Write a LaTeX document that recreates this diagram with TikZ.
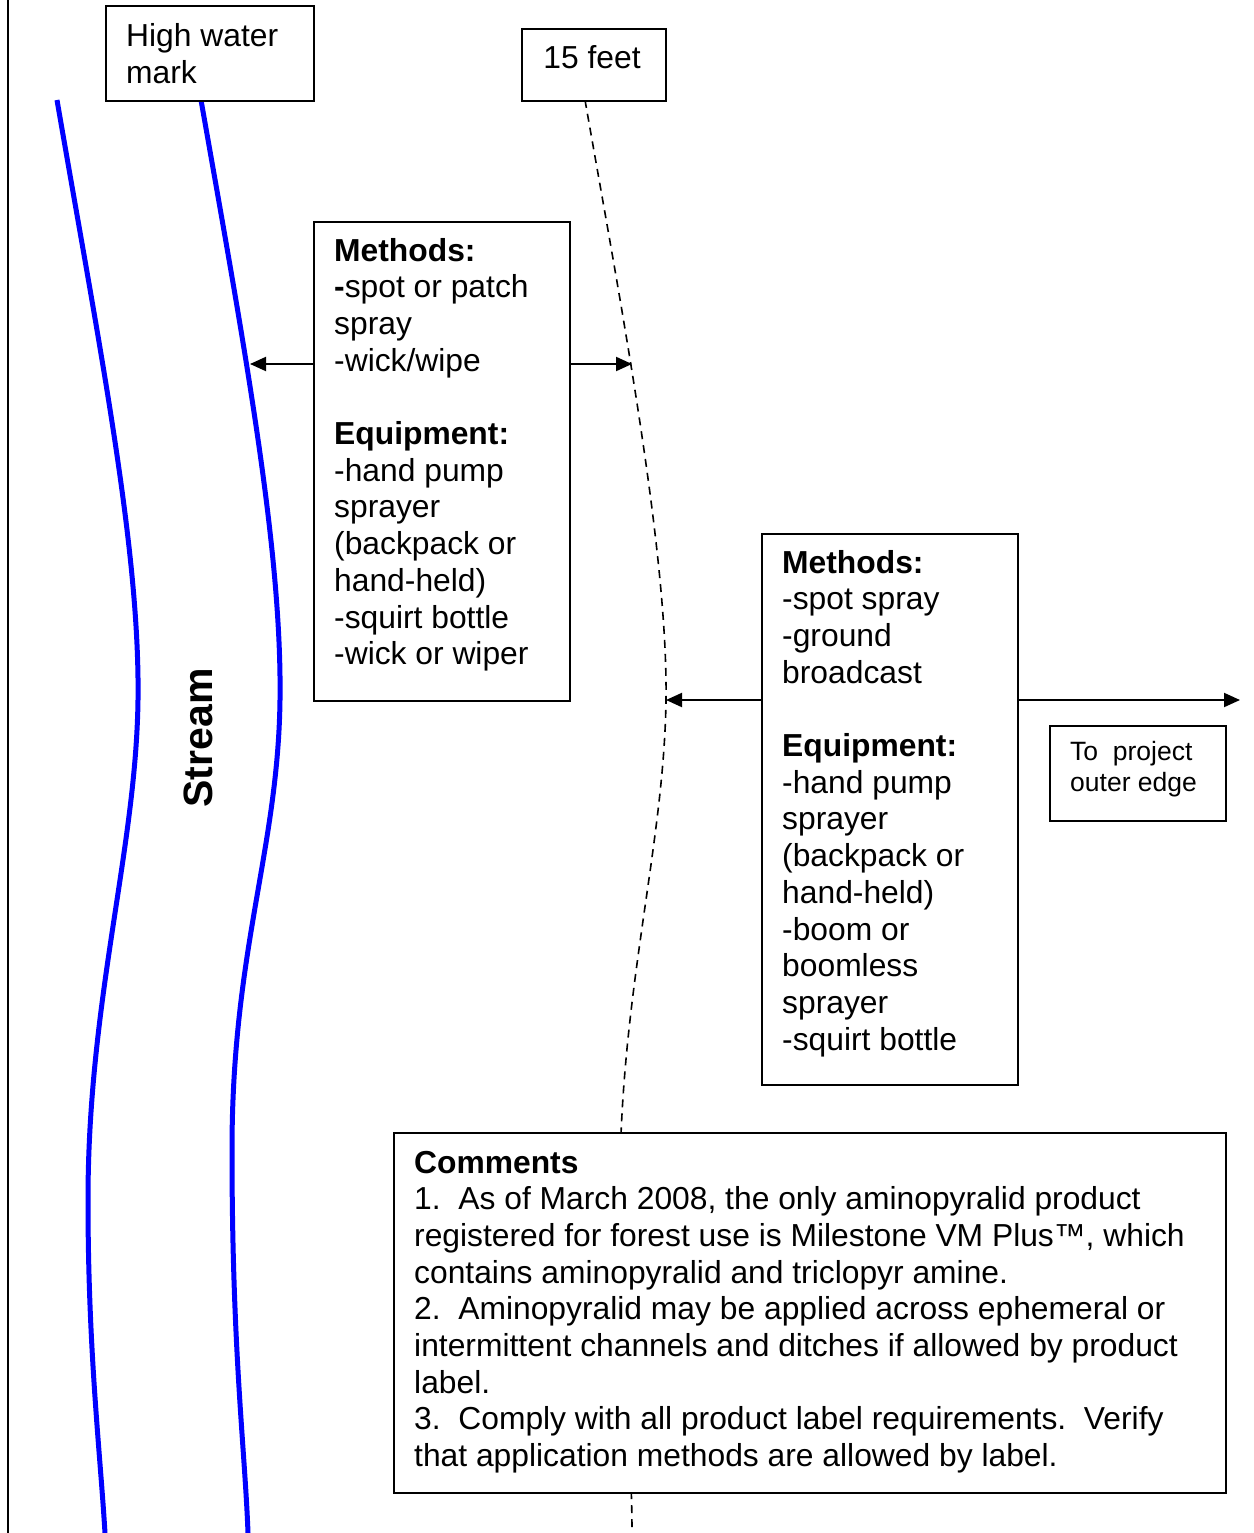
\documentclass[tikz,border=0pt]{standalone}
\usepackage{fontspec}
\setmainfont{Liberation Sans}
\usetikzlibrary{arrows.meta}
\begin{document}
\begin{tikzpicture}[x=1pt,y=-1pt,
  boxframe/.style={draw=black,line width=2pt,fill=white,inner sep=0pt,anchor=north west},
  bodytext/.style={font=\fontsize{31.8}{36.7}\selectfont,align=left,anchor=base west,inner sep=0pt},
  smalltext/.style={font=\fontsize{26.5}{31}\selectfont,align=left,anchor=base west,inner sep=0pt},
  conn/.style={line width=2pt,-{Triangle[length=16pt,width=14pt]}},
  stream/.style={draw=blue,line width=5pt},
  limit/.style={line width=1.6pt,dash pattern=on 8pt off 6pt}]
\useasboundingbox (0,0) rectangle (1253,1533);
\fill[white] (0,0) rectangle (1253,1533);
% left border
\draw[line width=2pt] (8,0) -- (8,1533);
% stream banks
\draw[stream] (57,100) .. controls (100,350) and (140,550) .. (138,700)
  .. controls (136,850) and (88,1000) .. (88,1200)
  .. controls (88,1350) and (100,1450) .. (105,1533);
\draw[stream] (201,100) .. controls (245,350) and (282,550) .. (280,700)
  .. controls (278,850) and (232,950) .. (232,1150)
  .. controls (232,1350) and (245,1450) .. (248,1533);
% 15 ft limit
\draw[limit] (585,100) .. controls (620,300) and (668,550) .. (666,700)
  .. controls (664,850) and (618,1000) .. (620,1200)
  .. controls (622,1350) and (632,1450) .. (632,1533);
\node[font=\bfseries\fontsize{41}{41}\selectfont,rotate=90] (stream) at (198,738) {Stream};
% high water mark
\node[boxframe,minimum width=208pt,minimum height=95pt] (hwm) at (105,5) {};
\node[bodytext] (hwmtext) at (126,83.7) {High water\\mark};
% 15 feet
\node[boxframe,minimum width=144pt,minimum height=72pt] (ft) at (521,28) {};
\node[font=\fontsize{31.8}{36.7}\selectfont,anchor=base,inner sep=0pt] (fttext) at (592,69) {15 feet};
% box 1
\node[boxframe,minimum width=256pt,minimum height=479pt] (b1) at (313,221) {};
\node[bodytext] (b1text) at (334,664.7) {\textbf{Methods:}\\\textbf{-}spot or patch\\spray\\-wick/wipe\\[36.7pt]\textbf{Equipment:}\\-hand pump\\sprayer\\(backpack or\\hand-held)\\-squirt bottle\\-wick or wiper};
% box 2
\node[boxframe,minimum width=256pt,minimum height=551pt] (b2) at (761,533) {};
\node[bodytext] (b2text) at (782,1050.1) {\textbf{Methods:}\\-spot spray\\-ground\\broadcast\\[36.7pt]\textbf{Equipment:}\\-hand pump\\sprayer\\(backpack or\\hand-held)\\-boom or\\boomless\\sprayer\\-squirt bottle};
% to project
\node[boxframe,minimum width=176pt,minimum height=95pt] (tp) at (1049,725) {};
\node[smalltext] (tptext) at (1070,791) {To\ \ project\\outer edge};
% comments
\node[boxframe,minimum width=832pt,minimum height=360pt] (cm) at (393,1132) {};
\node[bodytext] (cmtext) at (414,1466.6) {\textbf{Comments}\\
1.\ \ As of March 2008, the only aminopyralid product\\
registered for forest use is Milestone VM Plus™, which\\
contains aminopyralid and triclopyr amine.\\
2.\ \ Aminopyralid may be applied across ephemeral or\\
intermittent channels and ditches if allowed by product\\
label.\\
3.\ \ Comply with all product label requirements.\ \ Verify\\
that application methods are allowed by label.};
% arrow targets
\coordinate (bank) at (250,364);
\coordinate (lim1) at (632,364);
\coordinate (lim2) at (666,700);
\coordinate (outer) at (1240,700);
\draw[conn] (b1.west |- bank) -- (bank);
\draw[conn] (b1.east |- lim1) -- (lim1);
\draw[conn] (b2.west |- lim2) -- (lim2);
\draw[conn] (b2.east |- outer) -- (outer);
\end{tikzpicture}
\end{document}
